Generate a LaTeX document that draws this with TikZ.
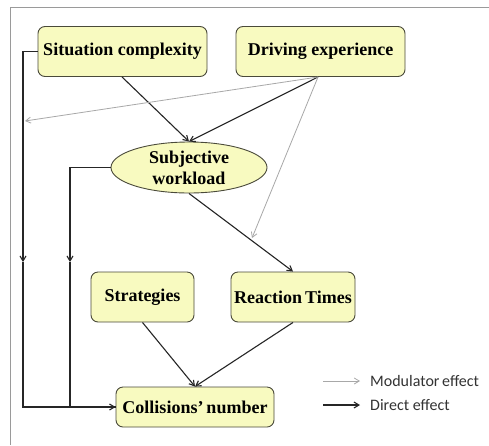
\documentclass[tikz,border=0pt]{standalone}
\usepackage{fontspec}
\newfontfamily\boxfont{Liberation Serif}
\newfontfamily\legendfont{Carlito}
\usetikzlibrary{shapes.geometric,arrows.meta}
\definecolor{boxfill}{HTML}{F8FAC0}
\definecolor{boxedge}{HTML}{4A4A3A}
\definecolor{modgray}{HTML}{A8A8A8}
\definecolor{framegray}{HTML}{9A9A9A}
\tikzset{
  boxtext/.style={font=\boxfont\bfseries\fontsize{18}{21}\selectfont},
  factor/.style={draw=boxedge, line width=0.9pt, fill=boxfill, rounded corners=7pt,
    minimum height=50pt, boxtext, inner sep=2pt},
  direct/.style={draw=black!85, line width=1.1pt, -{Straight Barb[length=5pt,width=6pt]}},
  modulator/.style={draw=modgray, line width=0.8pt, -{Straight Barb[length=5pt,width=6pt]}},
  plainline/.style={draw=black!85, line width=1.1pt},
  legendtext/.style={anchor=west, inner sep=0pt, font=\legendfont\fontsize{16}{19}\selectfont, text=black!80},
}
\begin{document}
\begin{tikzpicture}[x=1pt,y=-1pt]
\useasboundingbox (0,0) rectangle (489,445);
\fill[white] (0,0) rectangle (489,445);
% page frame
\draw[framegray, line width=0.8pt] (489,7.5) -- (10.5,7.5) -- (10.5,445);

% factors
\node[factor, minimum width=169pt] (sc) at (122.5,51.5) {Situation complexity};
\node[factor, minimum width=169pt] (de) at (320.5,51.5) {Driving experience};
\node[ellipse, draw=boxedge, line width=0.9pt, fill=boxfill, minimum width=156pt,
      minimum height=51pt, inner sep=0pt, align=center, boxtext] (sw) at (189,167.5) {Subjective\\workload};
\node[factor, minimum width=103pt] (st) at (142.5,297) {Strategies};
\node[factor, minimum width=124pt] (rt) at (293,297) {Reaction\,Times};
\node[factor, minimum width=158pt, minimum height=40pt] (cn) at (195,407) {Collisions’\,number};

% junction points of the side paths
\coordinate (scdown) at (23,262);
\coordinate (swdown) at (70,262);
\coordinate (deout) at (318,77);
\coordinate (modA) at (25,121);
\coordinate (modB) at (252,238);

% direct effects
\draw[direct] (sc.south -| 122,0) -- (sw.north);
\draw[direct] (deout) -- (sw.north);
\draw[direct] (sw.south) -- (rt.north);
\draw[direct] (st.south) -- (cn.north);
\draw[direct] (rt.south) -- (cn.north);
\draw[direct] (sc.west) -| (scdown);
\draw[plainline] (scdown) |- (cn.west);
\draw[direct] (sw.west) -| (swdown);
\draw[plainline] (swdown) -- (swdown |- cn.west);
\draw[direct] (swdown |- cn.west) -- (cn.west);

% modulator effects
\draw[modulator] (deout) -- (modA);
\draw[modulator] (deout) -- (modB);

% legend
\coordinate (lgA) at (323,381);
\coordinate (lgB) at (360,381);
\coordinate (lgC) at (323,405);
\coordinate (lgD) at (360,405);
\draw[modulator] (lgA) -- (lgB);
\draw[direct] (lgC) -- (lgD);
\node[legendtext] (lgm) at (370,381) {Modulator\,effect};
\node[legendtext] (lgd) at (370,405) {Direct effect};
\end{tikzpicture}
\end{document}
